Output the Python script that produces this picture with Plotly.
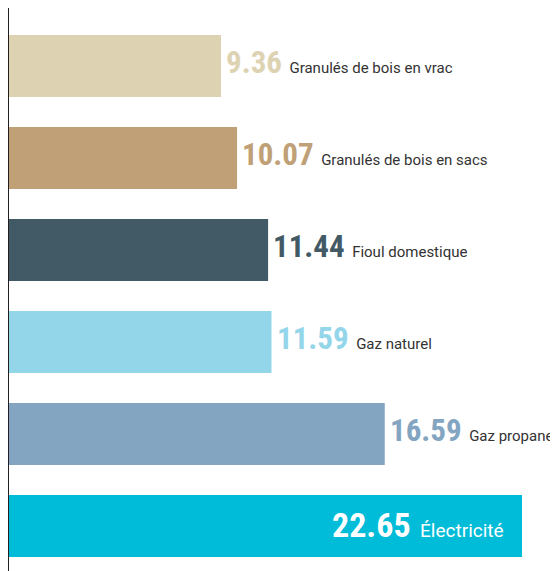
import plotly.graph_objects as go

categories = ["Granulés de bois en vrac", "Granulés de bois en sacs", "Fioul domestique",
              "Gaz naturel", "Gaz propane", "Électricité"]
values = [9.36, 10.07, 11.44, 11.59, 16.59, 22.65]
colors = ["#DDD3B3", "#BFA077", "#425A66", "#93D5E9", "#84A5C2", "#00BCD8"]
inside = [False, False, False, False, False, True]

fig = go.Figure(go.Bar(
    y=list(range(len(categories))), x=values, orientation="h",
    marker=dict(color=colors, line=dict(width=0)),
    width=0.674, hoverinfo="skip"))

numfont = '"Noto Sans SemiCondensed","Noto Sans Condensed",Roboto,sans-serif'
for i, (c, v, col, ins) in enumerate(zip(categories, values, colors, inside)):
    numcol = "#FFFFFF" if ins else col
    labcol = "#FFFFFF" if ins else "#333333"
    nsize = 34 if ins else 31
    lsize = 19 if ins else 15
    txt = (f"<span style='font-family:{numfont};font-stretch:semi-condensed;font-size:{nsize}px;color:{numcol}'><b>{v:.2f}</b></span>"
           f"<span style='font-size:{lsize}px;color:{labcol}'>  {c}</span>")
    fig.add_annotation(x=v, y=i, xref="x", yref="y", text=txt, showarrow=False,
                       xanchor="right" if ins else "left",
                       xshift=-16 if ins else 3, yshift=1 if ins else 3,
                       font=dict(family="Roboto", size=lsize, color=labcol))

W = 558
fig.update_layout(
    width=W, height=563,
    margin=dict(l=1, r=0, t=0, b=0),
    paper_bgcolor="white", plot_bgcolor="white",
    showlegend=False,
    xaxis=dict(range=[0, (W - 1) / (513 / 22.65)], visible=False, fixedrange=True),
    yaxis=dict(range=[5.49, -0.63], showticklabels=False, showgrid=False, zeroline=False,
               showline=True, linecolor="#231F20", linewidth=2, ticks=""),
    font=dict(family="Roboto"),
)

fig.write_html("out.html")
